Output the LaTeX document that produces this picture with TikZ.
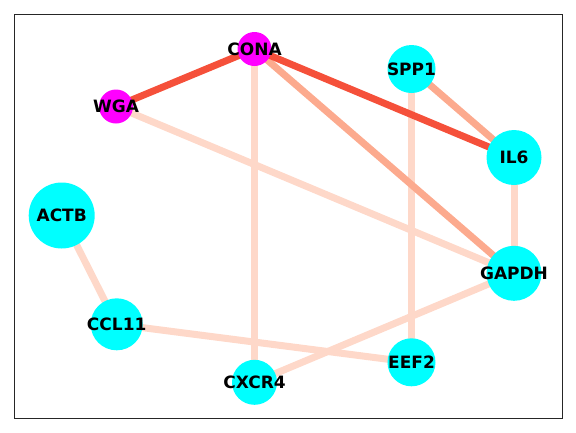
\documentclass[tikz,border=0pt]{standalone}
\usepackage{fontspec}
\setmainfont{DejaVu Sans}
\usetikzlibrary{backgrounds}

\definecolor{wstrong}{RGB}{245,80,58}
\definecolor{wmid}{RGB}{252,170,142}
\definecolor{wlow}{RGB}{254,216,201}
\definecolor{lectinmag}{RGB}{255,0,255}
\definecolor{genecyan}{RGB}{0,255,255}

\tikzset{
  lbl/.style={font=\fontsize{17}{20}\selectfont\bfseries, text=black, inner sep=0pt},
  gene/.style={circle, fill=genecyan, inner sep=0pt, minimum size=#1},
  lectin/.style={circle, fill=lectinmag, inner sep=0pt, minimum size=#1},
  link/.style={draw=#1, line width=7pt}
}

\begin{document}
\begin{tikzpicture}[x=1pt, y=-1pt]
  \useasboundingbox (0,0) rectangle (576,432);
  \draw[line width=0.8pt, black!85] (14.4,14.4) rectangle (562.5,418.3);

  % nodes
  \node[lectin=34pt, label={[lbl]center:CONA}] (cona) at (254.5,49) {};
  \node[lectin=34pt, label={[lbl]center:WGA}] (wga) at (116,106.5) {};
  \node[gene=48pt, label={[lbl]center:SPP1}] (spp1) at (411.5,69) {};
  \node[gene=55pt, label={[lbl]center:IL6}] (il6) at (514,157.5) {};
  \node[gene=66pt, label={[lbl]center:ACTB}] (actb) at (61.7,215.5) {};
  \node[gene=55pt, label={[lbl]center:GAPDH}] (gapdh) at (514,273.3) {};
  \node[gene=52pt, label={[lbl]center:CCL11}] (ccl11) at (116.7,324.3) {};
  \node[gene=48pt, label={[lbl]center:EEF2}] (eef2) at (411.5,362.3) {};
  \node[gene=45pt, label={[lbl]center:CXCR4}] (cxcr4) at (254.5,382.3) {};

  % edges, coloured by weight
  \begin{pgfonlayer}{background}
    \foreach \a/\b/\w in {cona/cxcr4/wlow, wga/gapdh/wlow, spp1/eef2/wlow,
        il6/gapdh/wlow, actb/ccl11/wlow, ccl11/eef2/wlow, cxcr4/gapdh/wlow,
        cona/gapdh/wmid, spp1/il6/wmid, wga/cona/wstrong, cona/il6/wstrong}
      \draw[link=\w] (\a.center) -- (\b.center);
  \end{pgfonlayer}
\end{tikzpicture}
\end{document}
